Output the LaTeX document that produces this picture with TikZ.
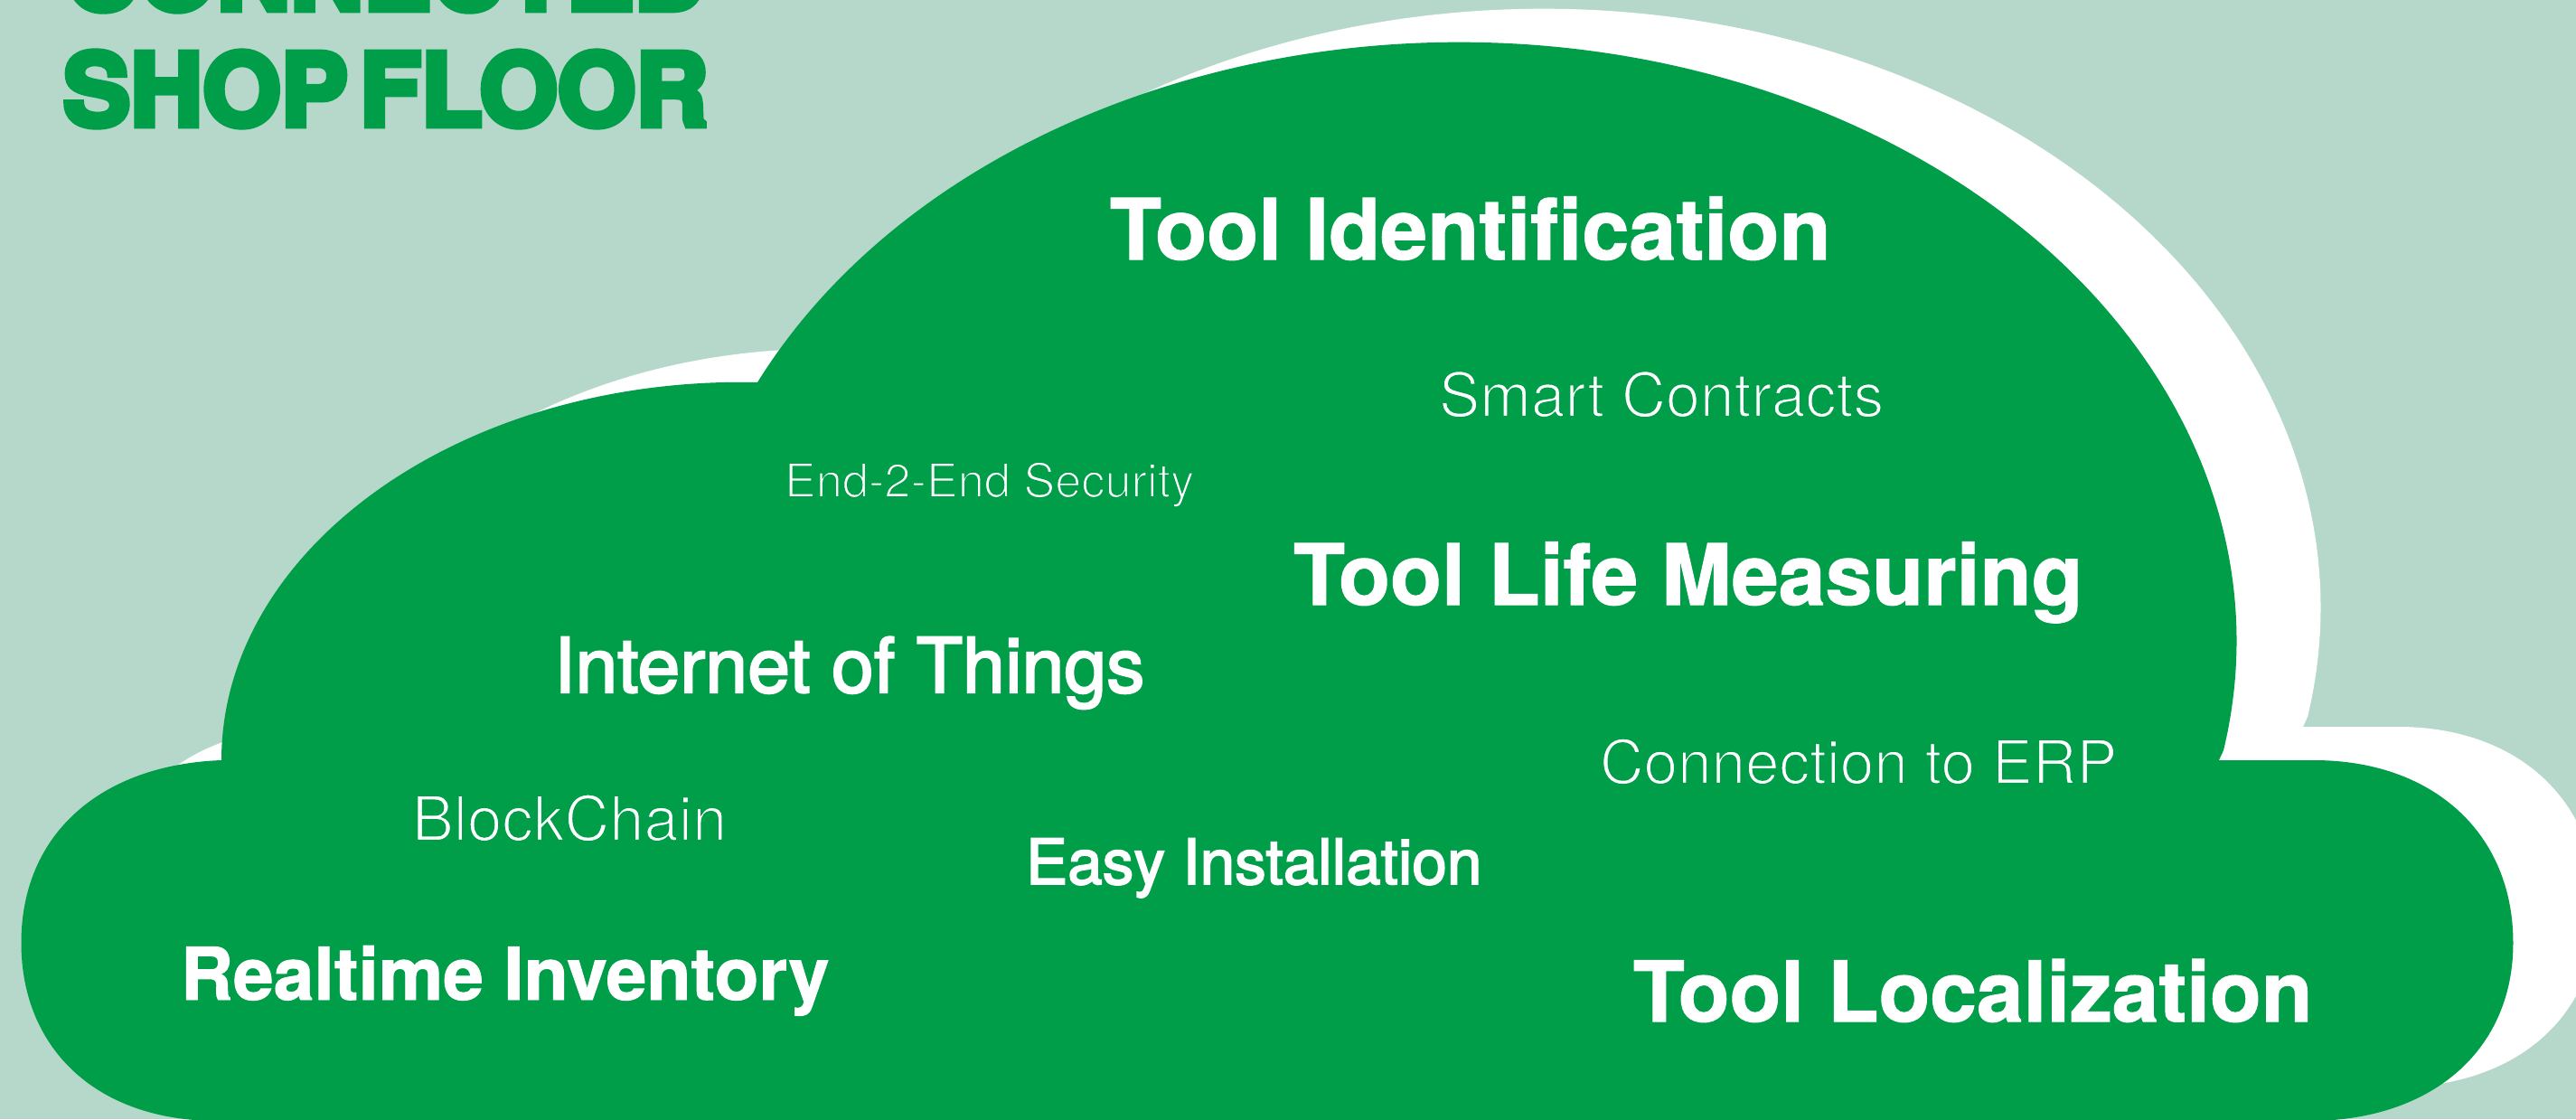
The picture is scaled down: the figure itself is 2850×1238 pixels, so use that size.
\documentclass[tikz,border=0pt]{standalone}
\usepackage{fontspec}
\setmainfont{TeX Gyre Heros}
\newfontfamily\titlefont[FakeBold=6]{TeX Gyre Heros Bold}
\newfontfamily\boldface[FakeBold=1.2]{TeX Gyre Heros Bold}
\newfontfamily\mediumfont[FakeBold=2.5]{TeX Gyre Heros}
\definecolor{cloudgreen}{HTML}{009E49}
\definecolor{paleground}{HTML}{B5D8CB}
\newcommand\fitw[2]{\resizebox{#1}{!}{#2}}
% thins the letters: white fill with a hairline of the ground colour round it
\newcommand\thin[2]{\special{pdf:code 2 Tr #1 w 0 0.62 0.286 RG}#2\special{pdf:code 0 Tr}}
\newcommand\cloudpath{(245,397) arc[start angle=180,end angle=90,x radius=5.75cm,y radius=4.18cm] -- (838,815) arc[start angle=154.4,end angle=-10.5,x radius=8.6cm,y radius=6.62cm] -- (2455,397) -- (2560,397) .. controls (2692,397) and (2780.5,316) .. (2780.5,195) .. controls (2780.5,77) and (2692,0) .. (2560,-2) -- (240,-2) .. controls (108,-2) and (23.5,77) .. (23.5,195) .. controls (23.5,316) and (112,392) .. (245,397) -- cycle}
\tikzset{
  label text/.style={anchor=base west,inner sep=0pt,outer sep=0pt,text=white},
  title text/.style={anchor=base west,inner sep=0pt,outer sep=0pt,text=cloudgreen},
}
\begin{document}
\begin{tikzpicture}[x=0.01cm,y=0.01cm]
\clip (0,0) rectangle (2850,1238);
\fill[paleground] (0,0) rectangle (2850,1238);
\begin{scope}[shift={(93,37)}]
\fill[white] \cloudpath;
\end{scope}
\fill[cloudgreen] \cloudpath;
\node[title text] (t1) at (72,1227) {\fitw{7.10cm}{\titlefont CONNECTED}};
\node[title text] (t2) at (70,1099) {\fitw{7.13cm}{\titlefont\spaceskip=.12em\relax SHOP FLOOR}};
\node[label text] (a) at (1228,951) {\fitw{7.97cm}{\boldface Tool Identification}};
\node[label text] (b) at (1592,777) {\fitw{4.92cm}{\thin{0.3}{Smart Contracts}}};
\node[label text] (c) at (868,688) {\fitw{4.53cm}{\thin{0.35}{End-2-End Security}}};
\node[label text] (d) at (1431,569) {\fitw{8.73cm}{\boldface Tool Life Measuring}};
\node[label text] (e) at (613,472) {\fitw{6.53cm}{\mediumfont Internet of Things}};
\node[label text] (f) at (456,308) {\fitw{3.48cm}{\thin{0.3}{BlockChain}}};
\node[label text] (g) at (1135,260) {\fitw{5.04cm}{\mediumfont Easy Installation}};
\node[label text] (h) at (200,132) {\fitw{7.17cm}{\boldface Realtime Inventory}};
\node[label text] (i) at (1770,371) {\fitw{5.72cm}{\thin{0.3}{Connection to ERP}}};
\node[label text] (j) at (1807,108) {\fitw{7.51cm}{\boldface Tool Localization}};
\end{tikzpicture}
\end{document}
